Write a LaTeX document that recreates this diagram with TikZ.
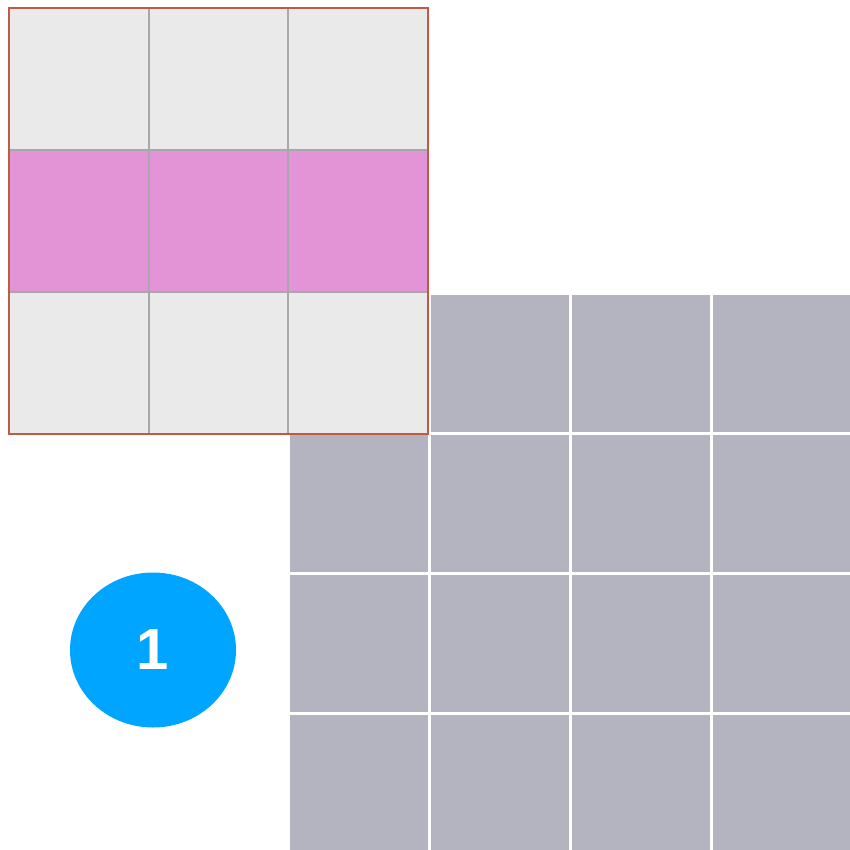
\documentclass[tikz,border=0pt]{standalone}
\usepackage{fontspec}
\setmainfont{Liberation Sans}
\usepackage{tikz}
\usetikzlibrary{shapes.geometric,positioning}

\definecolor{inputgrey}{HTML}{B4B4C0}
\definecolor{kernelgrey}{HTML}{EAEAEA}
\definecolor{rowpink}{HTML}{E394D6}
\definecolor{gridline}{HTML}{A8A8A8}
\definecolor{frame}{HTML}{C05A45}
\definecolor{badgeblue}{HTML}{00A5FF}

\begin{document}
\begin{tikzpicture}[x=1pt, y=-1pt,
  incell/.style={fill=inputgrey, draw=white, line width=3pt},
  kline/.style={draw=gridline, line width=2.8pt},
  badge/.style={ellipse, fill=badgeblue, text=white, minimum width=166pt, minimum height=155pt, inner sep=0pt, font=\fontsize{58}{58}\selectfont\bfseries}
]
\useasboundingbox (0,0) rectangle (850,850);
\clip (0,0) rectangle (850,850);

% Input grid
\foreach \i in {0,...,3}
  \foreach \j in {0,...,3}
    \filldraw[incell] (288+141*\i, 293+140*\j) rectangle ++(141,140);

% Kernel window
\fill[kernelgrey] (9,8) rectangle (428,434);
\fill[rowpink] (9,150) rectangle (428,292);
\foreach \x in {149, 288}
  \draw[kline] (\x,8) -- (\x,434);
\foreach \y in {150, 292}
  \draw[kline] (9,\y) -- (428,\y);
\draw[frame, line width=2.8pt] (9,8) rectangle (428,434);

% Step badge
\node[badge] (step1) at (153,650) {1};
\end{tikzpicture}
\end{document}
